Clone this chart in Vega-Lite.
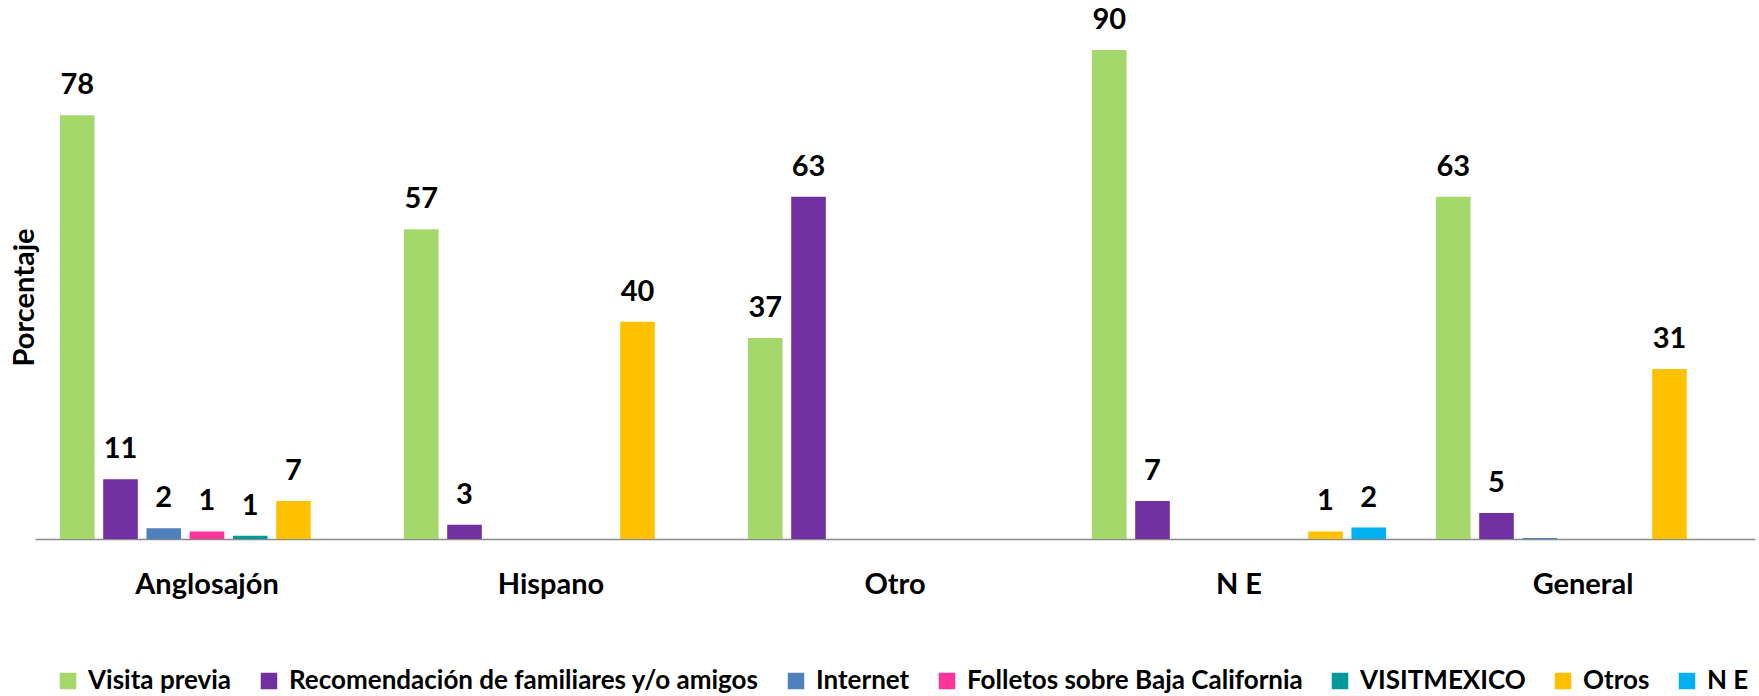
{
  "$schema": "https://vega.github.io/schema/vega-lite/v6.json",
  "width": 1720,
  "height": 539,
  "autosize": {"type": "none"},
  "padding": {"left": 35, "top": 0, "right": 4, "bottom": 157},
  "background": "white",
  "config": {"view": {"stroke": null}, "font": "Lato"},
  "data": {
    "values": [
      {"grupo": "Anglosajón", "serie": "Visita previa", "valor": 78},
      {"grupo": "Anglosajón", "serie": "Recomendación de familiares y/o amigos", "valor": 11},
      {"grupo": "Anglosajón", "serie": "Internet", "valor": 2},
      {"grupo": "Anglosajón", "serie": "Folletos sobre Baja California", "valor": 1.4},
      {"grupo": "Anglosajón", "serie": "VISITMEXICO", "valor": 0.6},
      {"grupo": "Anglosajón", "serie": "Otros", "valor": 7},
      {"grupo": "Hispano", "serie": "Visita previa", "valor": 57},
      {"grupo": "Hispano", "serie": "Recomendación de familiares y/o amigos", "valor": 2.6},
      {"grupo": "Hispano", "serie": "Otros", "valor": 40},
      {"grupo": "Otro", "serie": "Visita previa", "valor": 37},
      {"grupo": "Otro", "serie": "Recomendación de familiares y/o amigos", "valor": 63},
      {"grupo": "N E", "serie": "Visita previa", "valor": 90},
      {"grupo": "N E", "serie": "Recomendación de familiares y/o amigos", "valor": 7},
      {"grupo": "N E", "serie": "Otros", "valor": 1.4},
      {"grupo": "N E", "serie": "N E", "valor": 2.1},
      {"grupo": "General", "serie": "Visita previa", "valor": 63},
      {"grupo": "General", "serie": "Recomendación de familiares y/o amigos", "valor": 4.8},
      {"grupo": "General", "serie": "Internet", "valor": 0.2},
      {"grupo": "General", "serie": "Otros", "valor": 31.3}
    ]
  },
  "encoding": {
    "x": {
      "field": "grupo",
      "type": "nominal",
      "sort": ["Anglosajón", "Hispano", "Otro", "N E", "General"],
      "scale": {"paddingInner": 0.12, "paddingOuter": 0.06},
      "axis": {
        "title": null,
        "ticks": false,
        "labelAngle": 0,
        "labelFont": "Lato",
        "labelFontWeight": "bold",
        "labelFontSize": 29,
        "labelColor": "#000000",
        "labelBaseline": "alphabetic",
        "labelPadding": 54,
        "domainColor": "#898989",
        "domainWidth": 1.5
      }
    },
    "xOffset": {
      "field": "serie",
      "type": "nominal",
      "sort": ["Visita previa", "Recomendación de familiares y/o amigos", "Internet", "Folletos sobre Baja California", "VISITMEXICO", "Otros", "N E"],
      "scale": {"paddingInner": 0.2, "paddingOuter": 0.1}
    },
    "y": {
      "field": "valor",
      "type": "quantitative",
      "scale": {"domain": [0, 99.2], "nice": false},
      "axis": {
        "title": "Porcentaje",
        "titleFont": "Lato",
        "titleFontWeight": "bold",
        "titleFontSize": 29,
        "titleColor": "#000000",
        "titleAngle": -90,
        "titleBaseline": "alphabetic",
        "titleX": -2,
        "titleY": 297,
        "labels": false,
        "ticks": false,
        "domain": false,
        "grid": false
      }
    }
  },
  "layer": [
    {
      "mark": {"type": "bar"},
      "encoding": {
        "color": {
          "field": "serie",
          "type": "nominal",
          "scale": {
            "domain": ["Visita previa", "Recomendación de familiares y/o amigos", "Internet", "Folletos sobre Baja California", "VISITMEXICO", "Otros", "N E"],
            "range": ["#A5D86B", "#7030A0", "#4F81BD", "#FF3399", "#009999", "#FFC000", "#00B0F0"]
          },
          "legend": {
            "title": null,
            "orient": "none",
            "direction": "horizontal",
            "columns": 7,
            "legendX": 20,
            "legendY": 668,
            "padding": 0,
            "symbolType": "square",
            "symbolSize": 272,
            "symbolStrokeWidth": 0,
            "labelFont": "Lato",
            "labelFontWeight": "bold",
            "labelFontSize": 26,
            "labelColor": "#000000",
            "labelOffset": 7,
            "columnPadding": 24,
            "labelLimit": 800
          }
        }
      }
    },
    {
      "transform": [{"filter": "datum.valor >= 0.5"}],
      "mark": {
        "type": "text",
        "baseline": "alphabetic",
        "align": "center",
        "dy": -21,
        "font": "Lato",
        "fontWeight": "bold",
        "fontSize": 29,
        "color": "#000000"
      },
      "encoding": {
        "text": {"field": "valor", "type": "quantitative", "format": ".0f"}
      }
    }
  ]
}
